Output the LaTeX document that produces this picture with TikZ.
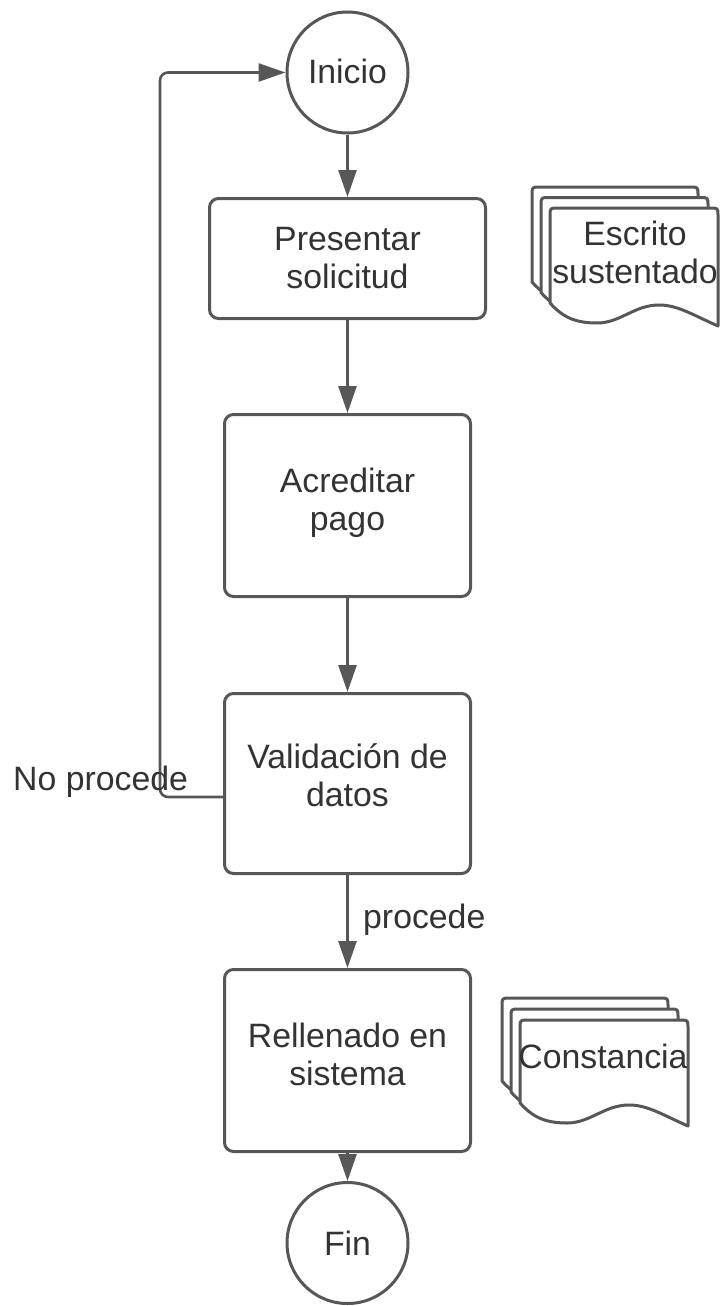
\documentclass[tikz,border=0pt]{standalone}
\usepackage{fontspec}
\setmainfont{Liberation Sans}
\usetikzlibrary{arrows.meta}
\definecolor{ln}{HTML}{575757}
\definecolor{txt}{HTML}{333333}
\newcommand{\twolines}[2]{\begin{tabular}[t]{@{}c@{}}#1\\#2\end{tabular}}
\tikzset{
  bigfont/.style={font=\fontsize{33.8}{38}\selectfont, text=txt},
  procbox/.style={draw=ln, line width=3pt, rounded corners=9pt, fill=white,
    inner sep=0pt, bigfont, text height=0pt},
  termcircle/.style={draw=ln, line width=3pt, circle, minimum size=121pt,
    inner sep=0pt, fill=white, bigfont},
  conn/.style={draw=ln, line width=2.6pt, -{Triangle[length=27pt,width=18pt]}},
  sheet/.style={draw=ln, line width=3pt, fill=white, line join=round},
  plain/.style={inner sep=0pt, bigfont},
}
% document sheet: #1 x, #2 y (top-left), #3 width, #4 left height
\newcommand{\sheetpath}[4]{%
  \draw[sheet] (#1,#2+#4) -- (#1,#2+8) .. controls (#1,#2) .. (#1+8,#2)
    -- (#1+#3-8,#2) .. controls (#1+#3,#2) .. (#1+#3,#2+8)
    -- (#1+#3,#2+#4+23)
    .. controls (#1+0.85*#3,#2+#4+12) and (#1+0.76*#3,#2+#4+2) .. (#1+0.65*#3,#2+#4+2)
    .. controls (#1+0.50*#3,#2+#4+2) and (#1+0.42*#3,#2+#4+20) .. (#1+0.28*#3,#2+#4+20)
    .. controls (#1+0.14*#3,#2+#4+20) and (#1+0.07*#3,#2+#4+13) .. (#1,#2+#4) -- cycle;}
\begin{document}
\begin{tikzpicture}[x=1pt,y=-1pt]
\useasboundingbox (0,0) rectangle (720,1306);

% nodes
\node[termcircle] (ini) at (347.5,72.5) {\raisebox{3pt}{Inicio}};
\node[procbox, minimum width=276pt, minimum height=120pt, text depth=17pt] (pres) at (347.5,258.5) {\twolines{Presentar}{solicitud}};
\node[procbox, minimum width=246pt, minimum height=182pt, text depth=27pt] (acr) at (347.5,505.5) {\twolines{Acreditar}{pago}};
\node[procbox, minimum width=246pt, minimum height=180pt, text depth=31pt] (val) at (347.5,783.5) {\twolines{Validación de}{datos}};
\node[procbox, minimum width=246pt, minimum height=182pt, text depth=27pt] (rel) at (347.5,1060.5) {\twolines{Rellenado en}{sistema}};
\node[termcircle] (fin) at (347.5,1243) {Fin};

% document stacks
\sheetpath{532}{187}{166}{95}
\sheetpath{541}{197.5}{167}{95}
\sheetpath{550}{208}{168}{95}
\node[plain, anchor=base] (escrito) at (635,245) {\twolines{Escrito}{sustentado}};

\sheetpath{502}{998}{166}{83}
\sheetpath{511}{1009}{167}{83}
\sheetpath{520}{1020}{168}{83}
\node[plain, anchor=base] (constancia) at (603,1068) {Constancia};

% connectors
\draw[conn] (ini.south) -- (pres.north);
\draw[conn] (pres.south) -- (acr.north);
\draw[conn] (acr.south) -- (val.north);
\draw[conn] (val.south) -- (rel.north);
\draw[conn] (rel.south) -- (fin.north);

\coordinate (lp) at (160,797);
\coordinate (lt) at (ini.west -| lp);
\draw[conn, rounded corners=8pt] ([yshift=-13.5pt]val.west) -- (lp) -- (lt) -- (ini.west);

% labels
\node[plain, anchor=base west] (noproc) at (13,790) {No procede};
\node[plain, anchor=base west] (proc) at (363,928) {procede};
\end{tikzpicture}
\end{document}
